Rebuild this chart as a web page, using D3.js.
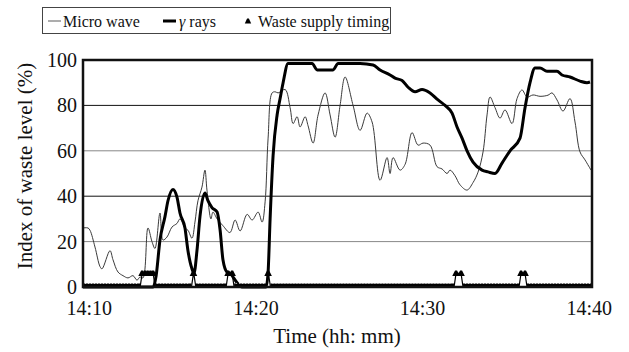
<!DOCTYPE html>
<html>
<head>
<meta charset="utf-8">
<script src="https://cdn.jsdelivr.net/npm/d3@7"></script>
<style>
  body { margin: 0; background: #fff; }
  svg text { font-family: "Liberation Serif", "Times New Roman", "DejaVu Serif", serif; fill: #111; }
</style>
</head>
<body>
<div id="chart"></div>
<script>
/// Data (time = minutes after 14:10)
const microTime = [-0.35, -0.05, 0.07, 0.37, 0.67, 0.79, 1.27, 1.45, 1.75, 2.05, 2.35, 2.65, 2.89, 3.07, 3.25,
  3.55, 3.79, 3.97, 4.27, 4.45, 4.69, 4.99, 5.29, 5.47, 5.77, 5.95, 6.19, 6.37, 6.55, 6.79, 6.97, 7.09,
  7.33, 7.45, 7.70, 8.05, 8.47, 8.78, 9.08, 9.50, 9.80, 10.16, 10.40, 10.58, 10.76, 11.0, 11.18, 11.36,
  11.78, 12.08, 12.26, 12.50, 12.68, 12.98, 13.16, 13.46, 13.76, 14.18, 14.48, 14.78, 15.08, 15.38,
  15.86, 16.28, 16.70, 17.0, 17.48, 17.90, 18.08, 18.26, 18.68, 18.98, 19.40, 19.76, 20.06, 20.48,
  20.90, 21.20, 21.50, 21.68, 21.98, 22.28, 22.70, 23.06, 23.36, 23.66, 23.90, 24.08, 24.38, 24.68,
  24.98, 25.40, 25.70, 26.0, 26.30, 26.66, 27.08, 27.56, 27.80, 28.10, 28.46, 28.88, 29.18, 29.48,
  29.78, 30.14];
const microLevel = [26, 26, 25, 17.6, 9, 8, 16, 12, 6.6, 5, 4, 5, 3, 4.4, 4,
  26, 20, 17, 32.6, 20.7, 22, 26.4, 28, 30, 26, 25, 21.5, 28.6, 38, 44, 51.5, 42.7,
  30, 33, 30, 27, 24, 29.5, 24.7, 32, 29.5, 33, 28.6, 37.5, 65.6, 85.5, 86, 85.5,
  87, 79, 72, 75, 70.5, 75, 71, 63.4, 75.8, 85.5, 75.8, 66, 80, 92.5,
  80, 69, 76.6, 72.7, 47, 57, 50, 57, 51.5, 54, 68, 62.5, 63.4, 62.5,
  53, 52, 50, 51.5, 49, 45, 42.7, 46, 50.6, 59.5, 75.8, 83.7, 79, 74.4,
  78, 72, 83, 86.8, 83.7, 84.6, 84, 84.5, 85.5, 82.4, 77.5, 83, 72.7, 59.5,
  56, 51.5];

const gammaTime = [-0.35, 3.86, 4.04, 4.27, 4.57, 4.75, 5.05, 5.29, 5.47, 5.77, 5.95, 6.19, 6.31, 6.49,
  6.67, 6.97, 7.15, 7.39, 7.70, 7.88, 8.05, 8.29, 8.47, 8.89, 9.19, 10.64, 10.76, 10.88, 11.06, 11.30,
  11.48, 11.66, 11.96, 13.40, 13.70, 14.66, 14.96, 16.28, 17.06, 17.48, 18.08, 18.38, 18.80, 19.16,
  19.58, 20.0, 20.48, 20.96, 21.38, 21.80, 22.10, 22.40, 22.70, 23.06, 23.60, 23.96, 24.38, 24.80,
  25.28, 25.88, 26.18, 26.48, 26.78, 27.08, 27.50, 28.10, 28.40, 28.88, 29.48, 29.90, 30.08];
const gammaLevel = [0, 0, 5, 20.7, 31, 38, 43, 39.6, 32.6, 26, 16, 8, 6, 16,
  31, 41.4, 38, 35, 33, 25, 12, 6.6, 6, 2, 0, 0, 6.6, 30, 58, 75.8,
  83, 90, 98.5, 98.5, 95.6, 95.6, 98.5, 98.5, 97.8, 95.6, 93.4, 92, 91, 88,
  86, 87, 85.5, 82.4, 80, 76.6, 70.5, 65.6, 60, 55, 51.5, 50.7, 50, 54.6,
  60, 65.6, 79, 90, 96.5, 96.5, 95, 95, 93.4, 92.5, 90.7, 90, 90.3];

/// Waste supply: start / end of each supply and the marker times
const supplyStart = [3.2, 6.28, 8.36, 10.76, 22.04, 25.94];
const supplyEnd = [3.86, 6.30, 8.6, 10.78, 22.34, 26.18];
const supplyMarks = [3.2, 3.37, 3.53, 3.7, 3.86, 6.28, 8.36, 8.6, 10.76, 22.04, 22.34, 25.94, 26.18];
const supplyLevel = 6;

const yTicks = [0, 20, 40, 60, 80, 100];
const xTickMinutes = [0, 10, 20, 30];
const xTickLabels = ["14:10", "14:20", "14:30", "14:40"];

const seriesNames = ["Micro wave", "\u03b3 rays", "Waste supply timing"];

/// Graphic elements
const l_Width = 629, l_Height = 352;
const l_Plot = { left: 83, right: 592, top: 60, bottom: 287 };
const l_Font = "'Liberation Serif', 'Times New Roman', 'DejaVu Serif', serif";

const svg = d3.select("#chart").append("svg")
  .attr("width", l_Width)
  .attr("height", l_Height)
  .style("font-family", l_Font);

const x = d3.scaleLinear().domain([-0.35, 30.2]).range([l_Plot.left, l_Plot.right]);
const y = d3.scaleLinear().domain([0, 100]).range([l_Plot.bottom, l_Plot.top]);

/// Grid lines (80 / 40 print darker than 60 / 20 in the original)
svg.append("g").selectAll("line")
  .data(yTicks.filter(d => d > 0 && d < 100))
  .enter().append("line")
  .attr("x1", l_Plot.left).attr("x2", l_Plot.right)
  .attr("y1", d => y(d)).attr("y2", d => y(d))
  .style("stroke", d => d % 40 === 0 ? "#111" : "#888")
  .style("stroke-width", 1);

/// Micro wave line
const microData = microTime.map((t, i) => ({ t: t, v: microLevel[i] }));
svg.append("path")
  .datum(microData)
  .attr("d", d3.line().x(d => x(d.t)).y(d => y(d.v)).curve(d3.curveCatmullRom.alpha(0.5)))
  .style("fill", "none")
  .style("stroke", "#3a3a3a")
  .style("stroke-width", 1);

/// Gamma rays line
const gammaData = gammaTime.map((t, i) => ({ t: t, v: gammaLevel[i] }));
svg.append("path")
  .datum(gammaData)
  .attr("d", d3.line().x(d => x(d.t)).y(d => y(d.v)).curve(d3.curveMonotoneX))
  .style("fill", "none")
  .style("stroke", "#000")
  .style("stroke-width", 3)
  .style("stroke-linejoin", "round");

/// Waste supply timing: baseline segments between supplies
let l_Segments = [];
let l_From = x.domain()[0];
supplyStart.forEach((s, i) => {
  l_Segments.push([l_From, s - 0.12]);
  l_From = supplyEnd[i] + 0.12;
});
l_Segments.push([l_From, x.domain()[1]]);

const l_Supply = svg.append("g");
l_Supply.selectAll("line.base")
  .data(l_Segments)
  .enter().append("line")
  .attr("class", "base")
  .attr("x1", d => x(d[0])).attr("x2", d => x(d[1]))
  .attr("y1", y(0) - 1.5).attr("y2", y(0) - 1.5)
  .style("stroke", "#000")
  .style("stroke-width", 4);
l_Supply.selectAll("line.dots")
  .data(l_Segments)
  .enter().append("line")
  .attr("class", "dots")
  .attr("x1", d => x(d[0]) + 2).attr("x2", d => x(d[1]) - 2)
  .attr("y1", y(0) - 3.6).attr("y2", y(0) - 3.6)
  .style("stroke", "#fff")
  .style("stroke-width", 0.8)
  .style("stroke-dasharray", "1,2");

/// connector lines up to the supply level
l_Supply.selectAll("path.step")
  .data(supplyStart.map((s, i) => [[s - 0.12, 0], [s, supplyLevel], [supplyEnd[i], supplyLevel], [supplyEnd[i] + 0.12, 0]]))
  .enter().append("path")
  .attr("class", "step")
  .attr("d", d3.line().x(d => x(d[0])).y(d => y(d[1])))
  .style("fill", "none")
  .style("stroke", "#000")
  .style("stroke-width", 1.2);

/// flat filled triangles like the original markers
l_Supply.selectAll("path.mark")
  .data(supplyMarks)
  .enter().append("path")
  .attr("class", "mark")
  .attr("transform", d => "translate(" + x(d) + "," + y(supplyLevel) + ")")
  .attr("d", "M-3.8,2.6L-1,-2.8L1,-2.8L3.8,2.6Z")
  .style("fill", "#000");

/// Frame
svg.append("rect")
  .attr("x", l_Plot.left).attr("y", l_Plot.top)
  .attr("width", l_Plot.right - l_Plot.left)
  .attr("height", l_Plot.bottom - l_Plot.top)
  .style("fill", "none")
  .style("stroke", "#111")
  .style("stroke-width", 2.5);

/// Axes
const l_YAxis = svg.append("g")
  .attr("transform", "translate(" + l_Plot.left + ",0)")
  .call(d3.axisLeft(y).tickValues(yTicks).tickSize(0).tickPadding(6));
const l_XAxis = svg.append("g")
  .attr("transform", "translate(0," + l_Plot.bottom + ")")
  .call(d3.axisBottom(x).tickValues(xTickMinutes).tickFormat((d, i) => xTickLabels[i]).tickSize(0).tickPadding(14));
[l_YAxis, l_XAxis].forEach(g => {
  g.attr("font-family", null).attr("font-size", null);
  g.select(".domain").remove();
  g.selectAll("text")
    .style("font-family", l_Font)
    .style("font-size", "20px")
    .style("fill", "#111");
});

/// Axis titles
svg.append("text")
  .attr("transform", "translate(32,166) rotate(-90)")
  .attr("text-anchor", "middle")
  .style("font-size", "21px")
  .text("Index of waste level (%)");
svg.append("text")
  .attr("x", 337).attr("y", 343)
  .attr("text-anchor", "middle")
  .style("font-size", "21px")
  .text("Time (hh: mm)");

/// Legend
const l_Legend = svg.append("g");
l_Legend.append("rect")
  .attr("x", 42.5).attr("y", 7.5)
  .attr("width", 348).attr("height", 26)
  .style("fill", "#fff")
  .style("stroke", "#444")
  .style("stroke-width", 1);
l_Legend.append("line")
  .attr("x1", 48).attr("x2", 61).attr("y1", 21).attr("y2", 21)
  .style("stroke", "#777").style("stroke-width", 1.2);
l_Legend.append("text").attr("x", 63).attr("y", 27).style("font-size", "16px").text(seriesNames[0]);
l_Legend.append("line")
  .attr("x1", 163).attr("x2", 176).attr("y1", 21).attr("y2", 21)
  .style("stroke", "#000").style("stroke-width", 3);
const l_Gamma = l_Legend.append("text").attr("x", 179).attr("y", 27).style("font-size", "16px");
l_Gamma.append("tspan").style("font-style", "italic").text(seriesNames[1].split(" ")[0]);
l_Gamma.append("tspan").text(" " + seriesNames[1].split(" ")[1]);
l_Legend.append("path")
  .attr("transform", "translate(248,21)")
  .attr("d", "M-3.2,2.4L-0.9,-2.6L0.9,-2.6L3.2,2.4Z")
  .style("fill", "#000");
l_Legend.append("text").attr("x", 258).attr("y", 27).style("font-size", "16px").text(seriesNames[2]);
</script>
</body>
</html>
